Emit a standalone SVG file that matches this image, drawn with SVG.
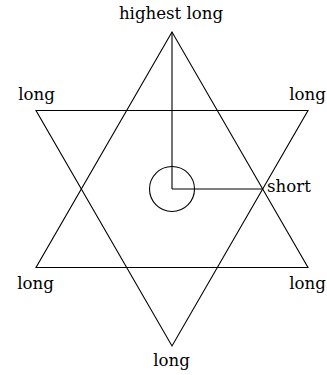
<svg xmlns="http://www.w3.org/2000/svg" width="327" height="375" viewBox="0 0 327 375">
<style>
.ln{fill:none;stroke:#000;stroke-width:1.1;stroke-linejoin:miter}
.lb{font-family:"DejaVu Serif","Liberation Serif",serif;font-size:16.6px;fill:#000}
.m{text-anchor:middle}
</style>
<rect width="327" height="375" fill="#fff"/>
<g id="star">
<polygon class="ln" points="172,32 36,267.5 308,267.5"/>
<polygon class="ln" points="36,110.5 308,110.5 172,346"/>
</g>
<g id="center">
<circle class="ln" cx="172" cy="189" r="22.5"/>
</g>
<g id="connectors">
<line class="ln" x1="172" y1="189" x2="172" y2="32"/>
<line class="ln" x1="172" y1="189" x2="262.7" y2="189"/>
</g>
<g id="n-top"><text class="lb m" x="171" y="19.3">highest long</text></g>
<g id="n-tl"><text class="lb m" x="36.5" y="100">long</text></g>
<g id="n-tr"><text class="lb m" x="307.5" y="100">long</text></g>
<g id="n-short"><text class="lb" x="267" y="192.3">short</text></g>
<g id="n-bl"><text class="lb m" x="35.5" y="289">long</text></g>
<g id="n-br"><text class="lb m" x="307.5" y="289">long</text></g>
<g id="n-bottom"><text class="lb m" x="171.5" y="366">long</text></g>
</svg>
